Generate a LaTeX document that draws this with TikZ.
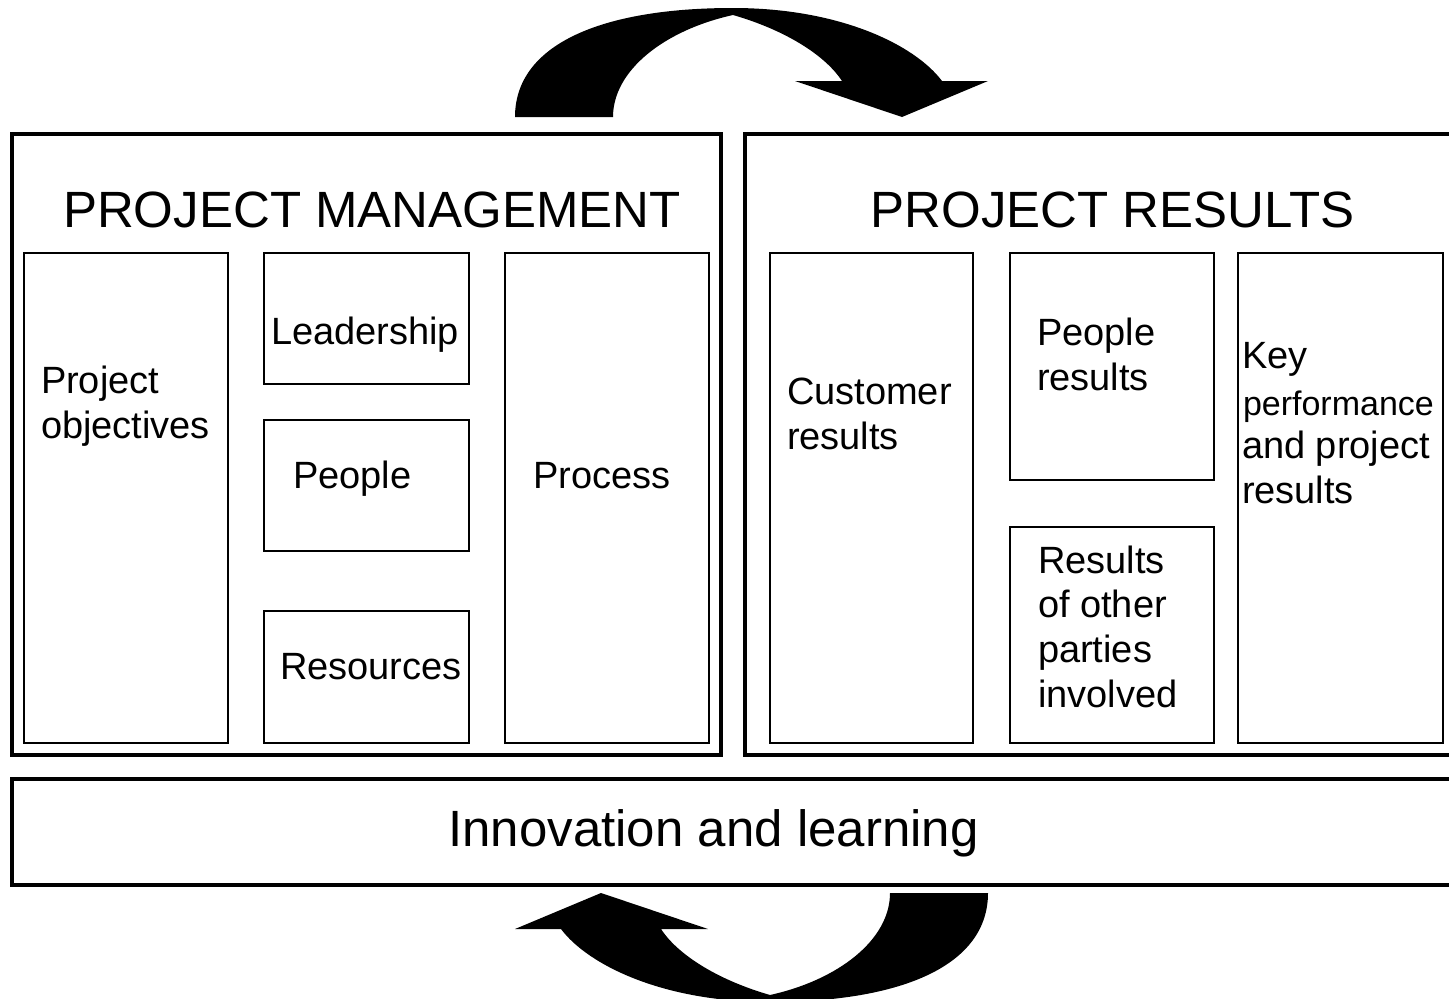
\documentclass[tikz,border=0pt]{standalone}
\usepackage{fontspec}
\setmainfont{Liberation Sans}
\begin{document}
\begin{tikzpicture}[x=1pt,y=-1pt,
  bigbox/.style={draw=black,line width=4pt,minimum width=#1,inner sep=0pt,outer sep=0pt},
  thinbox/.style={draw=black,line width=1.5pt,inner sep=0pt,outer sep=0pt},
  txt/.style={anchor=base west,inner sep=0pt,outer sep=0pt,font=\fontsize{38}{45}\selectfont},
  small/.style={anchor=base west,inner sep=0pt,outer sep=0pt,font=\fontsize{34}{40}\selectfont},
  title/.style={anchor=base,inner sep=0pt,outer sep=0pt,font=\fontsize{51}{60}\selectfont},
  bigarrow/.style={fill=black,draw=none}]
\useasboundingbox (0,0) rectangle (1449,999);
\clip (0,0) rectangle (1449,999);
% big boxes
\node[bigbox=709pt,minimum height=621pt] (pm) at (366.5,444.5) {};
\node[bigbox=715pt,minimum height=621pt] (pr) at (1102.5,444.5) {};
\node[bigbox=1448pt,minimum height=106pt] (il) at (736,832) {};
% inner boxes, left
\node[thinbox,minimum width=204pt,minimum height=490pt] (po) at (126,498) {};
\node[thinbox,minimum width=205pt,minimum height=131pt] (lead) at (366.5,318.5) {};
\node[thinbox,minimum width=205pt,minimum height=131pt] (ppl) at (366.5,485.5) {};
\node[thinbox,minimum width=205pt,minimum height=132pt] (res) at (366.5,677) {};
\node[thinbox,minimum width=204pt,minimum height=490pt] (proc) at (607,498) {};
% inner boxes, right
\node[thinbox,minimum width=203pt,minimum height=490pt] (cust) at (871.5,498) {};
\node[thinbox,minimum width=204pt,minimum height=227pt] (pres) at (1112,366.5) {};
\node[thinbox,minimum width=204pt,minimum height=216pt] (oth) at (1112,635) {};
\node[thinbox,minimum width=205pt,minimum height=490pt] (key) at (1340.5,498) {};
% titles
\node[title] (tpm) at (372,227) {PROJECT MANAGEMENT};
\node[title] (tpr) at (1112.5,227) {PROJECT RESULTS};
\node[title] (til) at (713.5,846) {Innovation and learning};
% texts
\node[txt] (po1) at (41,393) {Project};
\node[txt] (po2) at (41,438) {objectives};
\node[txt] (tlead) at (271,344) {Leadership};
\node[txt] (tppl) at (293,488) {People};
\node[txt] (tres) at (280,679) {Resources};
\node[txt] (tproc) at (533,488) {Process};
\node[txt] (cu1) at (787,404) {Customer};
\node[txt] (cu2) at (787,449) {results};
\node[txt] (pr1) at (1037,345) {People};
\node[txt] (pr2) at (1037,390) {results};
\node[txt] (ot1) at (1038,573) {Results};
\node[txt] (ot2) at (1038,617) {of other};
\node[txt] (ot3) at (1038,662) {parties};
\node[txt] (ot4) at (1038,707) {involved};
\node[txt] (k1) at (1242,368) {Key};
\node[small] (k2) at (1243,415) {performance};
\node[txt] (k3) at (1242,458) {and project};
\node[txt] (k4) at (1242,503) {results};
% cycle arrows
\def\cyclearrow{%
  (515,117) .. controls (515,45) and (600,8) .. (733,8)
  .. controls (840,8) and (915,45) .. (942,81)
  -- (988,81) -- (902,117) -- (795,81) -- (842,81)
  .. controls (825,55) and (785,30) .. (733,15)
  .. controls (665,30) and (613,70) .. (613,117) -- cycle}
\fill[bigarrow] \cyclearrow;
\begin{scope}[rotate around={180:(751.5,505)}]
\fill[bigarrow] \cyclearrow;
\end{scope}
\end{tikzpicture}
\end{document}
